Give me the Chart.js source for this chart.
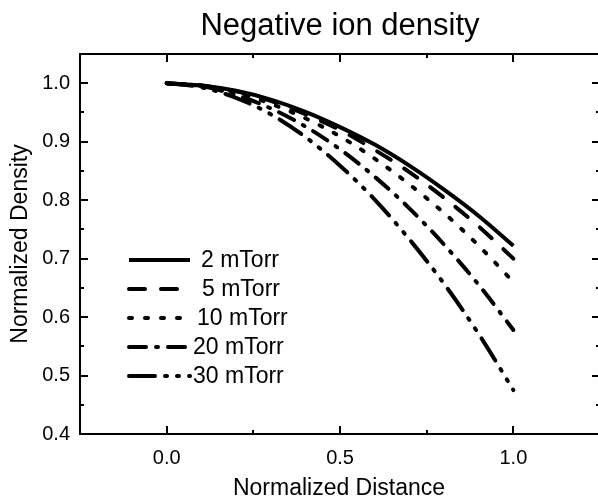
<!DOCTYPE html>
<html><head><meta charset="utf-8">
<script src="https://cdn.jsdelivr.net/npm/chart.js@4/dist/chart.umd.min.js"></script>
<style>html,body{margin:0;padding:0;overflow:hidden;background:#fff}</style>
</head><body>
<canvas id="c" width="598" height="503" style="display:block;width:598px;height:503px"></canvas>
<script>
// ---- data ----
const distance = [0.0, 0.1, 0.2, 0.3, 0.4, 0.5, 0.6, 0.7, 0.8, 0.9, 1.0];
const density2mTorr  = [1.000, 0.996, 0.987, 0.972, 0.951, 0.925, 0.895, 0.859, 0.818, 0.773, 0.722];
const density5mTorr  = [1.000, 0.996, 0.986, 0.970, 0.947, 0.920, 0.886, 0.848, 0.804, 0.755, 0.700];
const density10mTorr = [1.000, 0.996, 0.984, 0.965, 0.940, 0.909, 0.871, 0.827, 0.778, 0.722, 0.660];
const density20mTorr = [1.000, 0.995, 0.980, 0.957, 0.926, 0.887, 0.840, 0.786, 0.724, 0.655, 0.578];
const density30mTorr = [1.000, 0.993, 0.975, 0.947, 0.908, 0.859, 0.801, 0.733, 0.657, 0.571, 0.475];
const seriesLabels = ['2 mTorr', '5 mTorr', '10 mTorr', '20 mTorr', '30 mTorr'];
const xTickLabels = ['0.0', '0.5', '1.0'];
const yTickLabels = ['0.4', '0.5', '0.6', '0.7', '0.8', '0.9', '1.0'];
const chartTitle = 'Negative ion density';
const xTitle = 'Normalized Distance';
const yTitle = 'Normalized Density';

const FONT = '"Liberation Sans", Arial, Helvetica, sans-serif';
Chart.defaults.font.family = FONT;
Chart.defaults.color = '#000';

const seriesValues = [density2mTorr, density5mTorr, density10mTorr, density20mTorr, density30mTorr];
const dashes = [
  [],
  [16, 16],
  [3, 13],
  [17, 10, 2, 10],
  [26, 10, 2, 10, 2, 10]
];

const datasets = seriesValues.map((vals, i) => ({
  label: seriesLabels[i],
  data: distance.map((x, j) => ({x: x, y: vals[j]})),
  borderColor: '#000',
  borderWidth: 4,
  borderDash: dashes[i],
  borderCapStyle: dashes[i].length ? 'round' : 'butt',
  pointRadius: 0,
  fill: false,
  cubicInterpolationMode: 'monotone'
}));

const isMajorX = v => Math.abs(Math.round(v * 100) % 50) === 0;
const isMajorY = v => Math.abs(Math.round(v * 100) % 10) === 0;
const legendTextX = [201, 202, 197, 193, 193];

const framePlugin = {
  id: 'frame',
  afterDraw(chart) {
    const ctx = chart.ctx;
    const a = chart.chartArea;
    const xs = chart.scales.x, ys = chart.scales.y;
    const rightEdge = a.right + 2;
    ctx.save();
    ctx.strokeStyle = '#000';
    ctx.lineWidth = 2;
    ctx.setLineDash([]);
    ctx.beginPath();
    ctx.moveTo(rightEdge, a.top); ctx.lineTo(a.left, a.top);
    ctx.lineTo(a.left, a.bottom); ctx.lineTo(rightEdge, a.bottom);
    ctx.stroke();
    ctx.beginPath();
    xs.ticks.forEach(t => {
      const px = Math.round(xs.getPixelForValue(t.value));
      const len = isMajorX(t.value) ? 8 : 4;
      ctx.moveTo(px, a.bottom); ctx.lineTo(px, a.bottom - len);
      ctx.moveTo(px, a.top); ctx.lineTo(px, a.top + len);
    });
    ys.ticks.forEach(t => {
      const py = Math.round(ys.getPixelForValue(t.value));
      const len = isMajorY(t.value) ? 8 : 4;
      ctx.moveTo(a.left, py); ctx.lineTo(a.left + len, py);
      ctx.moveTo(rightEdge, py); ctx.lineTo(rightEdge - len, py);
    });
    ctx.stroke();

    // title
    ctx.fillStyle = '#000';
    ctx.font = '31px ' + FONT;
    ctx.textAlign = 'center';
    ctx.textBaseline = 'alphabetic';
    ctx.fillText(chartTitle, (a.left + rightEdge) / 2, 35);

    // legend
    ctx.font = '23px ' + FONT;
    ctx.textAlign = 'left';
    ctx.textBaseline = 'middle';
    chart.data.datasets.forEach((ds, i) => {
      const y = 260 + i * 29;
      ctx.beginPath();
      ctx.lineWidth = ds.borderWidth;
      ctx.setLineDash(ds.borderDash);
      ctx.lineCap = ds.borderCapStyle;
      ctx.moveTo(129, y); ctx.lineTo(190, y);
      ctx.stroke();
      ctx.setLineDash([]);
      ctx.fillText(ds.label, legendTextX[i], y + 1);
    });
    ctx.restore();
  }
};

new Chart(document.getElementById('c'), {
  type: 'line',
  data: {datasets},
  options: {
    responsive: false,
    animation: false,
    devicePixelRatio: 1,
    layout: {padding: {top: 54, right: 0, left: 0, bottom: 0}},
    plugins: {legend: {display: false}, tooltip: {enabled: false}, title: {display: false}},
    scales: {
      x: {
        type: 'linear', min: -0.25, max: 1.244,
        afterFit(s) { s.height = 69; s.paddingLeft = 0; s.paddingRight = 0; },
        grid: {display: false, drawTicks: false},
        border: {display: false},
        ticks: {
          stepSize: 0.25, autoSkip: false, maxRotation: 0, padding: 12, includeBounds: false,
          font: {size: 20}, color: '#000',
          callback: v => {
            const s = (Math.round(v * 10) / 10).toFixed(1);
            return isMajorX(v) && xTickLabels.includes(s) ? s : '';
          }
        },
        title: {display: true, text: xTitle, font: {size: 23}, color: '#000', padding: {top: 0, bottom: 1}}
      },
      y: {
        type: 'linear', min: 0.4, max: 1.05,
        afterFit(s) { s.width = 80; s.paddingTop = 0; s.paddingBottom = 0; },
        grid: {display: false, drawTicks: false},
        border: {display: false},
        ticks: {
          stepSize: 0.05, autoSkip: false, padding: 10,
          font: {size: 20}, color: '#000',
          callback: v => {
            const s = (Math.round(v * 10) / 10).toFixed(1);
            return isMajorY(v) && yTickLabels.includes(s) ? s : '';
          }
        },
        title: {display: true, text: yTitle, font: {size: 23}, color: '#000', padding: {top: 7, bottom: 0}}
      }
    }
  },
  plugins: [framePlugin]
});
</script>
</body></html>
